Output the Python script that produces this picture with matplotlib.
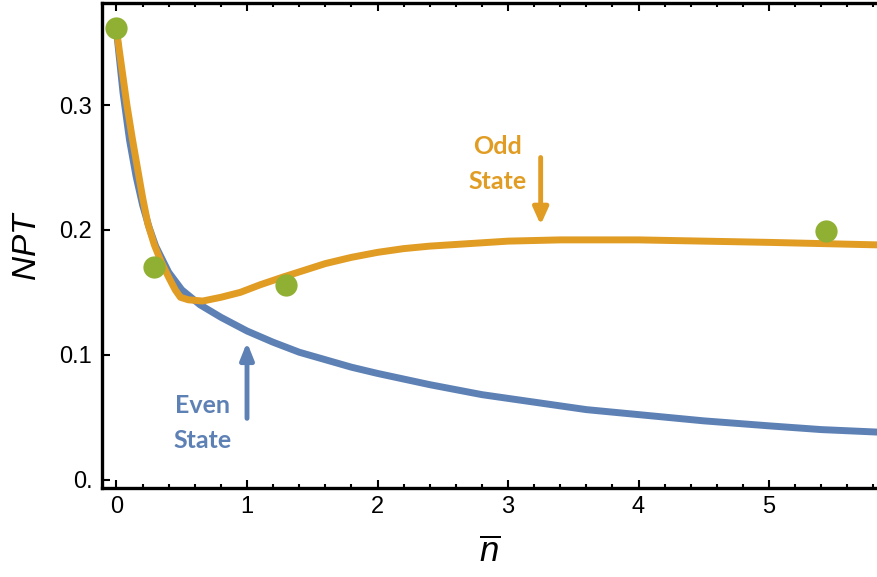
import matplotlib
matplotlib.use("Agg")
import matplotlib.pyplot as plt
from matplotlib.ticker import MultipleLocator

# values
even_x = [0.0, 0.05, 0.10, 0.15, 0.20, 0.25, 0.30, 0.40, 0.50, 0.64, 0.80, 1.0,
          1.2, 1.4, 1.6, 1.8, 2.0, 2.4, 2.8, 3.2, 3.6, 4.0, 4.5, 5.0, 5.4, 5.83]
even_y = [0.360, 0.310, 0.272, 0.243, 0.220, 0.202, 0.187, 0.166, 0.152, 0.140, 0.130, 0.119,
          0.110, 0.102, 0.096, 0.090, 0.085, 0.076, 0.068, 0.062, 0.056, 0.052, 0.047, 0.043,
          0.040, 0.038]

odd_x = [0.0, 0.04, 0.08, 0.12, 0.16, 0.20, 0.24, 0.29, 0.34, 0.40, 0.45, 0.49, 0.55, 0.66,
         0.80, 0.95, 1.1, 1.27, 1.45, 1.6, 1.8, 2.0, 2.2, 2.4, 2.7, 3.0, 3.4, 4.0, 4.5, 5.0, 5.83]
odd_y = [0.360, 0.330, 0.300, 0.274, 0.250, 0.226, 0.205, 0.188, 0.175, 0.162, 0.152, 0.146,
         0.144, 0.143, 0.146, 0.150, 0.156, 0.162, 0.168, 0.173, 0.178, 0.182, 0.185, 0.187,
         0.189, 0.191, 0.192, 0.192, 0.191, 0.190, 0.188]

exp_x = [0.0, 0.29, 1.30, 5.44]
exp_y = [0.362, 0.170, 0.156, 0.199]

x_ticks = [0, 1, 2, 3, 4, 5]
y_ticks = [0.0, 0.1, 0.2, 0.3]
y_tick_labels = ["0.", "0.1", "0.2", "0.3"]

BLUE = "#5e81b5"
ORANGE = "#e19c24"
GREEN = "#8fb032"

plt.rcParams["font.family"] = ["Liberation Sans", "DejaVu Sans"]
plt.rcParams["mathtext.fontset"] = "custom"
plt.rcParams["mathtext.it"] = "Liberation Sans:italic"
plt.rcParams["mathtext.rm"] = "Liberation Sans"

fig = plt.figure(figsize=(8.77, 5.77), dpi=100)
ax = fig.add_axes([102 / 877, 1 - 488 / 577, 1 - 102 / 877, (488 - 3) / 577])

ax.plot(even_x, even_y, color=BLUE, lw=5, solid_capstyle="butt", zorder=2)
ax.plot(odd_x, odd_y, color=ORANGE, lw=5, solid_capstyle="butt", zorder=3)
ax.plot(exp_x, exp_y, "o", color=GREEN, ms=16, mec="none", zorder=4, clip_on=False)

ax.set_xlim(-0.111, 5.827)
ax.set_ylim(-0.0068, 0.3818)

ax.set_xticks(x_ticks)
ax.xaxis.set_minor_locator(MultipleLocator(0.2))
ax.set_yticks(y_ticks)
ax.set_yticklabels(y_tick_labels)

for side in ["left", "bottom", "top"]:
    ax.spines[side].set_linewidth(2.4)
ax.spines["right"].set_visible(False)

ax.tick_params(axis="x", which="both", direction="in", top=True, bottom=True,
               labelsize=17, pad=6, width=1.5)
ax.tick_params(axis="x", which="major", length=6)
ax.tick_params(axis="x", which="minor", length=3)
ax.tick_params(axis="y", which="major", direction="in", length=6, width=1.5,
               labelsize=17, pad=7)

ax.set_ylabel(r"$NPT$", fontsize=24, labelpad=12)
ax.set_xlabel(r"$\overline{n}$", fontsize=25, labelpad=12)

# annotations
ax.text(2.92, 0.253, "Odd\nState",
        color=ORANGE, fontsize=18, fontweight="bold", family=["Lato", "DejaVu Sans"],
        ha="center", va="center", linespacing=1.65)
ax.annotate("", xy=(3.25, 0.204), xytext=(3.25, 0.258),
            arrowprops=dict(arrowstyle="-|>,head_width=0.45,head_length=1.0",
                            color=ORANGE, lw=3.5, shrinkA=0, shrinkB=0))

ax.text(0.66, 0.0455, "Even\nState",
        color=BLUE, fontsize=18, fontweight="bold", family=["Lato", "DejaVu Sans"],
        ha="center", va="center", linespacing=1.65)
ax.annotate("", xy=(1.0, 0.110), xytext=(1.0, 0.049),
            arrowprops=dict(arrowstyle="-|>,head_width=0.4,head_length=1.0",
                            color=BLUE, lw=3.5, shrinkA=0, shrinkB=0))

fig.savefig("out.png", dpi=100)
